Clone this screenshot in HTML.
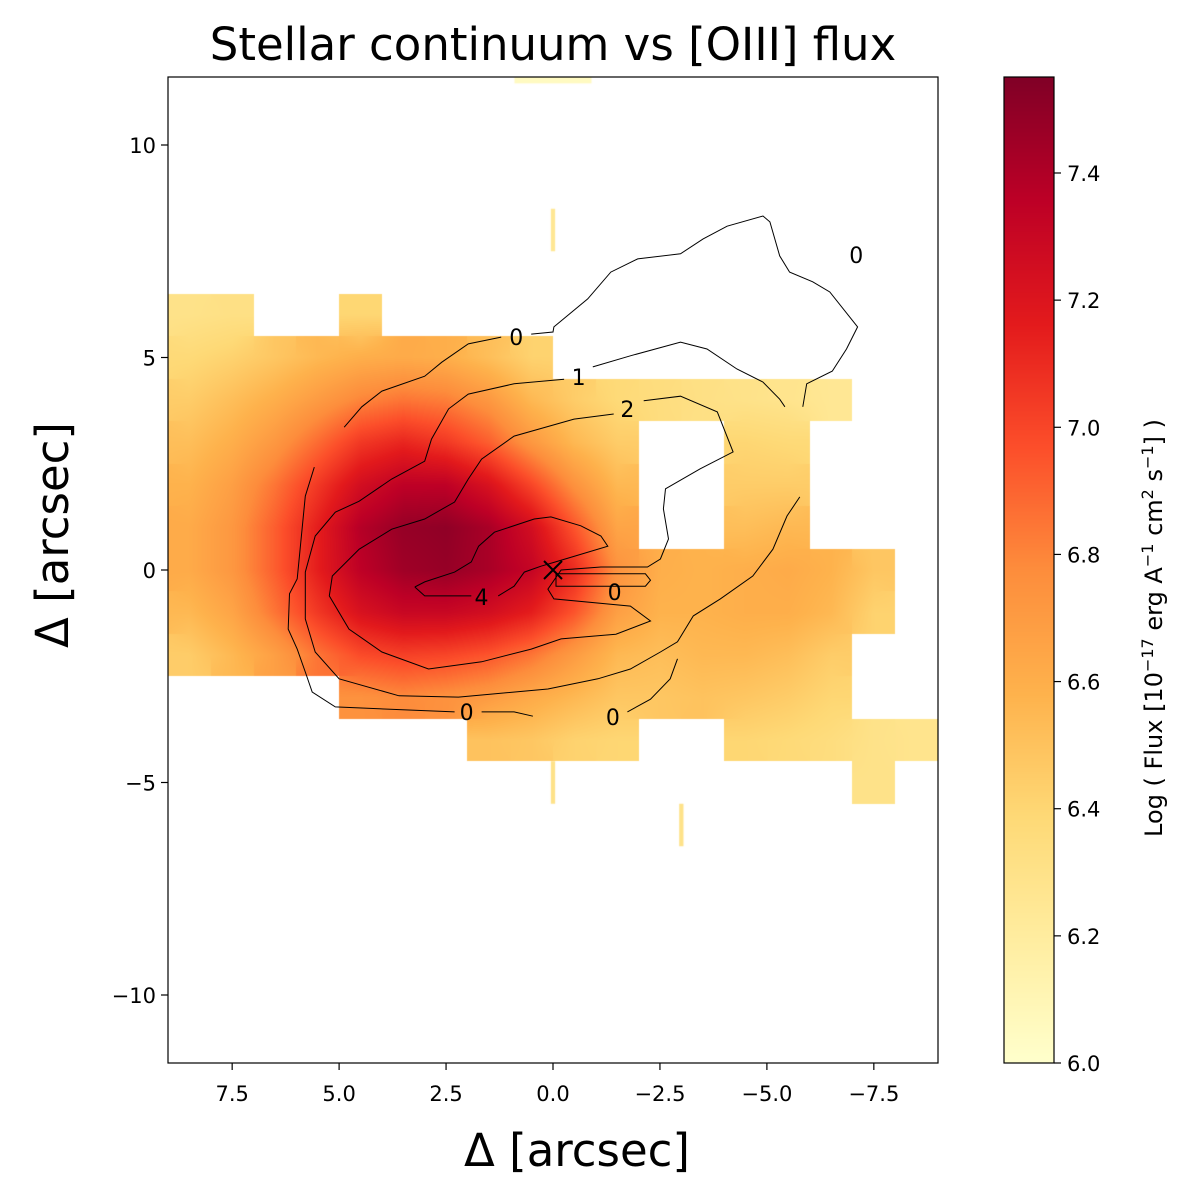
<!DOCTYPE html>
<html><head><meta charset="utf-8">
<style>
html,body{margin:0;padding:0;background:#fff;}
#wrap{position:relative;width:1200px;height:1195px;overflow:hidden;font-family:"DejaVu Sans","Liberation Sans",sans-serif;}
canvas,svg{position:absolute;left:0;top:0;}
</style></head>
<body>
<div id="wrap">
<canvas id="cv" width="1200" height="1195"></canvas>
<svg id="sv" width="1200" height="1195" xmlns="http://www.w3.org/2000/svg"></svg>
</div>
<script>
// ---- data ----
const colCenters = [8.5,7.5,6.5,5.5,4.5,3.5,2.5,1.5,0.5,-0.5,-1.5,-2.5,-3.5,-4.5,-5.5,-6.5,-7.5,-8.5];
const rowCenters = [6,5,4,3,2,1,0,-1,-2,-3,-4,-5];
const n = null;
const fluxGrid = [
 [6.30,6.32,n,n,6.40,n,n,n,n,n,n,n,n,n,n,n,n,n],
 [6.38,6.42,6.48,6.55,6.60,6.62,6.60,6.52,6.42,n,n,n,n,n,n,n,n,n],
 [6.45,6.52,6.60,6.70,6.80,6.85,6.82,6.72,6.55,6.45,6.38,6.35,6.32,6.30,6.28,6.25,n,n],
 [6.52,6.60,6.72,6.88,7.05,7.12,7.05,6.92,6.72,6.55,6.45,n,n,6.40,6.38,n,n,n],
 [6.58,6.68,6.85,7.05,7.25,7.35,7.35,7.22,7.00,6.75,6.55,n,n,6.45,6.45,n,n,n],
 [6.62,6.72,6.92,7.15,7.38,7.48,7.50,7.42,7.25,6.95,6.65,n,n,6.52,6.55,n,n,n],
 [6.62,6.72,6.92,7.15,7.35,7.45,7.48,7.42,7.32,7.10,6.75,6.60,6.58,6.60,6.62,6.58,6.48,n],
 [6.55,6.65,6.85,7.05,7.22,7.30,7.30,7.25,7.15,6.95,6.68,6.58,6.58,6.60,6.60,6.55,6.42,n],
 [6.45,6.55,6.68,6.85,6.98,7.02,7.00,6.95,6.85,6.70,6.55,6.52,6.55,6.55,6.52,6.45,n,n],
 [n,n,n,n,6.75,6.78,6.75,6.70,6.62,6.55,6.48,6.48,6.50,6.48,6.45,6.40,n,n],
 [n,n,n,n,n,n,n,6.50,6.48,6.42,6.40,n,n,6.40,6.38,6.35,6.30,6.28],
 [n,n,n,n,n,n,n,n,n,n,n,n,n,n,n,n,6.30,n]
];
// isolated thin spaxel strips [x0,x1,y0,y1,value]
const strips = [[0.05,-0.05,8.5,7.5,6.25],[0.05,-0.05,-4.5,-5.5,6.3],[-2.95,-3.05,-5.5,-6.5,6.3],[0.9,-0.9,11.6,11.45,6.05]];
const xTicks = [7.5,5.0,2.5,0.0,-2.5,-5.0,-7.5];
const yTicks = [10,5,0,-5,-10];
const cbTicks = [6.0,6.2,6.4,6.6,6.8,7.0,7.2,7.4];
const cRange = [6.0,7.551];
// contours (arcsec), null = gap for inline label
const contour0a = [[4.88,3.36],[4.47,3.84],[4.00,4.21],[3.00,4.56],[2.60,4.89],[1.98,5.32],[1.21,5.48],null,[0.51,5.55],[0,5.60],[-0.02,5.72],[-0.81,6.38],[-1.35,7.01],[-1.98,7.32],[-2.98,7.44],[-3.51,7.79],[-4.07,8.09],[-4.91,8.33],[-5.07,8.19],[-5.30,7.39],[-5.53,7.01],[-6.07,6.78],[-6.47,6.54],[-7.12,5.72],[-6.86,5.20],[-6.53,4.68],[-5.93,4.38],[-5.84,3.84]];
const contour0b = [[5.58,2.42],[5.79,1.74],[5.98,-0.21],[6.16,-0.56],[6.19,-1.39],[5.98,-1.86],[5.79,-2.40],[5.63,-2.87],[5.09,-3.22],[2.30,-3.34],null,[1.67,-3.34],[0.91,-3.34],[0.47,-3.44]];
const contour0c = [[-1.74,-3.34],[-2.28,-3.04],[-2.74,-2.56],[-2.91,-2.09]];
const contour1 = [[-5.42,3.84],[-5.30,4.02],[-4.91,4.42],[-4.30,4.73],[-3.60,5.20],[-2.98,5.36],[-1.81,5.04],[-0.93,4.78],null,[-0.26,4.49],[0.91,4.38],[1.98,4.14],[2.44,3.79],[2.84,3.08],[3.00,2.56],[3.77,2.14],[4.53,1.62],[5.09,1.36],[5.56,0.80],[5.79,-0.05],[5.79,-1.15],[5.56,-1.93],[5.00,-2.56],[3.60,-2.96],[2.21,-2.99],[0.12,-2.80],[-1.05,-2.56],[-1.81,-2.33],[-2.51,-1.93],[-2.91,-1.69],[-3.28,-1.08],[-3.91,-0.68],[-4.67,-0.14],[-5.14,0.49],[-5.47,1.27],[-5.77,1.72]];
const contour2 = [[-2.12,3.98],[-2.98,4.09],[-3.84,3.72],[-4.21,2.78],[-3.44,2.38],[-2.63,1.91],[-2.58,1.44],[-2.70,0.73],[-2.51,0.26],[-2.21,0.07],[-1.12,0.07],[-0.19,0],[0.12,-0.45],[-0.02,-0.68],[-1.81,-0.85],[-2.28,-1.20],[-1.47,-1.51],[-0.19,-1.62],[0.51,-1.86],[1.67,-2.16],[2.91,-2.33],[4.00,-1.93],[4.77,-1.39],[5.23,-0.61],[5.16,-0.14],[4.53,0.49],[3.77,0.96],[3.00,1.20],[2.30,1.60],[1.98,2.14],[1.67,2.61],[0.91,3.15],[-0.49,3.55],[-1.42,3.67]];
const contourInner0 = [[-0.07,-0.09],[-2.16,-0.09],[-2.28,-0.24],[-2.16,-0.38],[-0.07,-0.38],[-0.07,-0.09]];
const contour4 = [[3.23,-0.40],[3.00,-0.61],[1.91,-0.61],null,[1.28,-0.61],[0.91,-0.38],[0.67,-0.05],[0.28,0.09],[-0.12,0.21],[-1.28,0.56],[-1.12,0.80],[-0.65,1.04],[0.05,1.25],[0.44,1.20],[1.37,0.89],[1.74,0.56],[1.91,0.19],[2.30,-0.05],[3.00,-0.28],[3.23,-0.40]];
const contourLabels = [["0",0.86,5.48],["1",-0.60,4.54],["2",-1.74,3.79],["4",1.67,-0.64],["0",-1.44,-0.52],["0",2.02,-3.34],["0",-1.40,-3.46],["0",-7.09,7.41]];
const centerMark = [0,0];

// ---- axes ----
const PL=168, PR=938, PT=77, PB=1063;
const X0=9.0, X1=-9.0, Y0=11.6, Y1=-11.6;
const sx = v => PL + (X0 - v) / (X0 - X1) * (PR - PL);
const sy = v => PT + (Y0 - v) / (Y0 - Y1) * (PB - PT);
const CBL=1004, CBR=1054, CBT=77, CBB=1063;
const cy = v => CBB - (v - cRange[0]) / (cRange[1] - cRange[0]) * (CBB - CBT);

const stops = [[255,255,204],[255,237,160],[254,217,118],[254,178,76],[253,141,60],[252,78,42],[227,26,28],[189,0,38],[128,0,38]];
function cmap(v){
  let t=(v-cRange[0])/(cRange[1]-cRange[0]); t=Math.max(0,Math.min(1,t));
  const p=t*(stops.length-1); const i=Math.min(stops.length-2,Math.floor(p)); const f=p-i;
  return stops[i].map((c,k)=>Math.round(c+(stops[i+1][k]-c)*f));
}

// ---- heatmap ----
const cv=document.getElementById('cv'); const ctx=cv.getContext('2d');
const img=ctx.createImageData(PR-PL, PB-PT);
function cell(i,j){ if(j<0||j>=rowCenters.length||i<0||i>=colCenters.length) return null; return fluxGrid[j][i]; }
for(let py=0;py<PB-PT;py++){
  const y=Y0-(py+0.5)/(PB-PT)*(Y0-Y1);
  for(let px=0;px<PR-PL;px++){
    const x=X0-(px+0.5)/(PR-PL)*(X0-X1);
    const ci=Math.floor(colCenters[0]+0.5-x), rj=Math.floor(rowCenters[0]+0.5-y);
    const own=cell(ci,rj); if(own===null) continue;
    const fx=(colCenters[0]-x), fy=(rowCenters[0]-y);
    const i0=Math.floor(fx), j0=Math.floor(fy), ux=fx-i0, uy=fy-j0;
    const g=(i,j)=>{const c=cell(i,j); return c===null?own:c;};
    const v=(g(i0,j0)*(1-ux)+g(i0+1,j0)*ux)*(1-uy)+(g(i0,j0+1)*(1-ux)+g(i0+1,j0+1)*ux)*uy;
    const c=cmap(v); const k=(py*(PR-PL)+px)*4;
    img.data[k]=c[0];img.data[k+1]=c[1];img.data[k+2]=c[2];img.data[k+3]=255;
  }
}
ctx.putImageData(img,PL,PT);
strips.forEach(s=>{const c=cmap(s[4]);ctx.fillStyle=`rgb(${c})`;ctx.fillRect(sx(s[0]),sy(s[2]),sx(s[1])-sx(s[0]),sy(s[3])-sy(s[2]));});
// colorbar
for(let py=CBT;py<CBB;py++){const v=cRange[0]+(CBB-py-0.5)/(CBB-CBT)*(cRange[1]-cRange[0]);const c=cmap(v);ctx.fillStyle=`rgb(${c})`;ctx.fillRect(CBL,py,CBR-CBL,1);}

// ---- svg overlay ----
const NS='http://www.w3.org/2000/svg'; const sv=document.getElementById('sv');
function mk(tag,attrs,parent){const e=document.createElementNS(NS,tag);for(const k in attrs)e.setAttribute(k,attrs[k]);(parent||sv).appendChild(e);return e;}
function txt(s,attrs,parent){const e=mk('text',attrs,parent);e.textContent=s;return e;}
const fmt=v=>(v<0?'\u2212':'')+Math.abs(v).toString();

const cgrp=mk('g',{fill:'none',stroke:'#000','stroke-width':1});


[['contour-0-upper',contour0a],['contour-0-lower',contour0b],['contour-0-right',contour0c],['contour-1',contour1],['contour-2',contour2],['contour-0-inner',contourInner0],['contour-4',contour4]].forEach(([nm,pts])=>{
  let d='',pen=false;
  pts.forEach(p=>{if(p===null){pen=false;return;}d+=(pen?'L':'M')+sx(p[0]).toFixed(1)+','+sy(p[1]).toFixed(1);pen=true;});
  const e=mk('path',{d:d},cgrp);
  
  
});
contourLabels.forEach(l=>{
  const e=txt(l[0],{x:sx(l[1]),y:sy(l[2])+8,'text-anchor':'middle','font-size':22,fill:'#000'});
  
  
});
const mx=sx(centerMark[0]), my=sy(centerMark[1]);
const mark=mk('path',{d:`M${mx-9},${my-9}L${mx+9},${my+9}M${mx-9},${my+9}L${mx+9},${my-9}`,stroke:'#000','stroke-width':2});



const frame=mk('rect',{x:PL,y:PT,width:PR-PL,height:PB-PT,fill:'none',stroke:'#000','stroke-width':1.2});


xTicks.forEach(t=>{
  mk('line',{x1:sx(t),x2:sx(t),y1:PB,y2:PB+7,stroke:'#000','stroke-width':1.2});
  const e=txt((t<0?'\u2212':'')+Math.abs(t).toFixed(1),{x:sx(t),y:PB+38,'text-anchor':'middle','font-size':21,fill:'#000'});
  
  
});
yTicks.forEach(t=>{
  mk('line',{x1:PL-7,x2:PL,y1:sy(t),y2:sy(t),stroke:'#000','stroke-width':1.2});
  const e=txt(fmt(t),{x:PL-12,y:sy(t)+8,'text-anchor':'end','font-size':21,fill:'#000'});
  
  
});
const cbf=mk('rect',{x:CBL,y:CBT,width:CBR-CBL,height:CBB-CBT,fill:'none',stroke:'#000','stroke-width':1.2});


cbTicks.forEach(t=>{
  mk('line',{x1:CBR,x2:CBR+7,y1:cy(t),y2:cy(t),stroke:'#000','stroke-width':1.2});
  const e=txt(t.toFixed(1),{x:CBR+13,y:cy(t)+8,'font-size':21,fill:'#000'});
  
  
});
</script>
<svg width="1200" height="1195" style="position:absolute;left:0;top:0" xmlns="http://www.w3.org/2000/svg">
<text x="553" y="60" text-anchor="middle" font-size="45" font-family="DejaVu Sans, Liberation Sans, sans-serif">Stellar continuum vs [OIII] flux</text>
<text x="577" y="1166" text-anchor="middle" font-size="45" font-family="DejaVu Sans, Liberation Sans, sans-serif">Δ [arcsec]</text>
<text transform="translate(68,535) rotate(-90)" text-anchor="middle" font-size="45" font-family="DejaVu Sans, Liberation Sans, sans-serif">Δ [arcsec]</text>
<text transform="translate(1162,628) rotate(-90)" text-anchor="middle" font-size="24" font-family="DejaVu Sans, Liberation Sans, sans-serif">Log ( Flux [10<tspan dy="-9" font-size="16">−17</tspan><tspan dy="9"> erg A</tspan><tspan dy="-9" font-size="16">−1</tspan><tspan dy="9"> cm</tspan><tspan dy="-9" font-size="16">2</tspan><tspan dy="9"> s</tspan><tspan dy="-9" font-size="16">−1</tspan><tspan dy="9">] )</tspan></text>
</svg>
</body></html>
